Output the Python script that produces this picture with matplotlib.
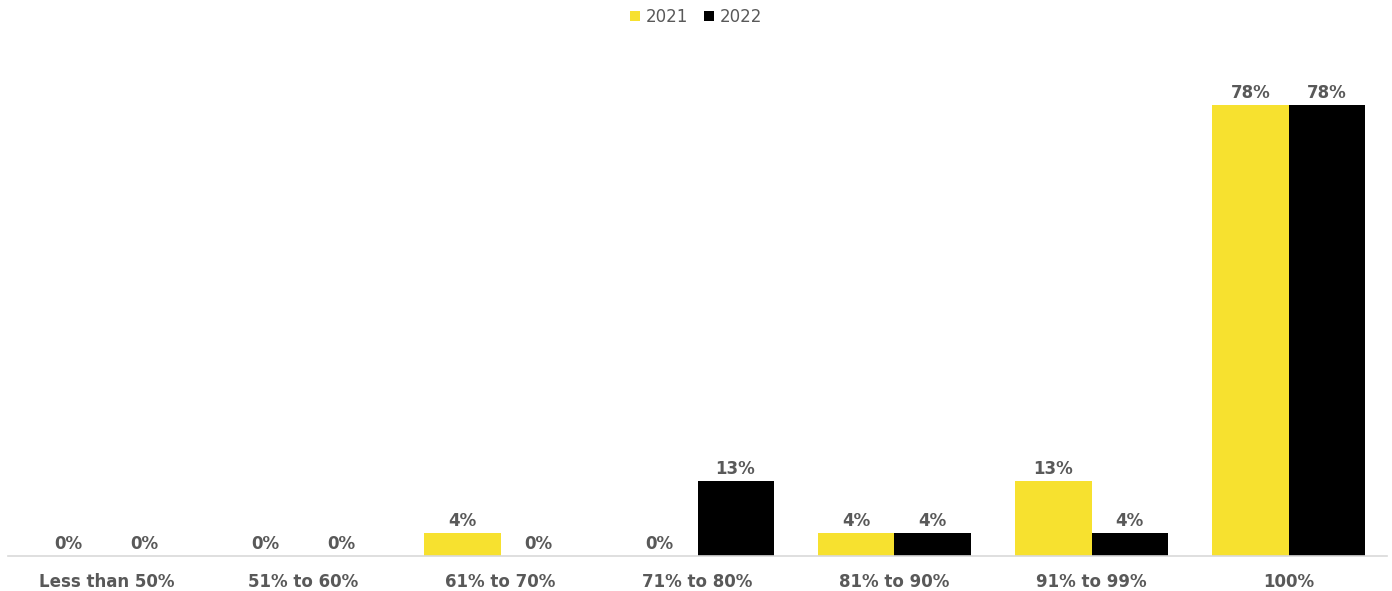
import numpy as np
import matplotlib.pyplot as plt

categorias = ["Less than 50%", "51% to 60%", "61% to 70%", "71% to 80%",
              "81% to 90%", "91% to 99%", "100%"]
valores_2021 = [0, 0, 4, 0, 4, 13, 78]
valores_2022 = [0, 0, 0, 13, 4, 4, 78]

amarillo = '#F7E12F'
negro = '#000000'
gris = '#595959'

fig = plt.figure(figsize=(13.92, 5.91), dpi=100)
ax = fig.add_axes([8 / 1392, 1 - 556 / 591, 1379 / 1392, 516 / 591])

x = np.arange(len(categorias))
ancho = 0.386
b1 = ax.bar(x - ancho / 2, valores_2021, ancho, color=amarillo, label='2021')
b2 = ax.bar(x + ancho / 2, valores_2022, ancho, color=negro, label='2022')

# etiquetas de valor encima de cada barra
for barras in (b1, b2):
    for b in barras:
        v = b.get_height()
        ax.text(b.get_x() + b.get_width() / 2, v + 0.5, f'{v:.0f}%',
                ha='center', va='bottom', fontsize=12, fontweight='bold', color=gris)

ax.set_xlim(-0.5, len(categorias) - 0.5)
ax.set_ylim(0, 89.2)
ax.set_xticks(x)
ax.set_xticklabels(categorias, fontsize=12, fontweight='bold', color=gris)
ax.tick_params(axis='x', length=0, pad=12)
ax.set_yticks([])
for lado in ('top', 'right', 'left'):
    ax.spines[lado].set_visible(False)
ax.spines['bottom'].set_color('#D9D9D9')
ax.spines['bottom'].set_linewidth(1.2)

leyenda = fig.legend(loc='upper center', bbox_to_anchor=(0.5, 1.012), ncol=2, frameon=False,
                     fontsize=12, handlelength=0.6, handleheight=0.6, handletextpad=0.3,
                     columnspacing=1.0)
for t in leyenda.get_texts():
    t.set_color(gris)

plt.savefig('out.png', dpi=100)
